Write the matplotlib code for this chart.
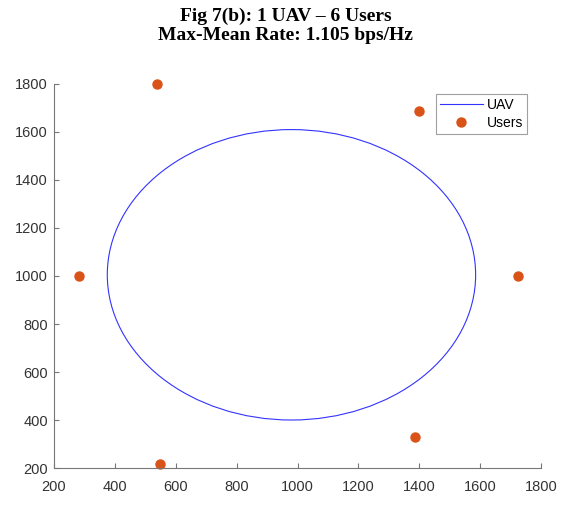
import numpy as np
import matplotlib.pyplot as plt
from matplotlib.patches import Circle
from matplotlib.lines import Line2D

# user positions (m)
user_x = [538, 1399, 282, 1724, 1386, 548]
user_y = [1800, 1688, 1000, 1000, 329, 217]

# UAV circular trajectory
uav_center = (980, 1005)
uav_radius = 605

plt.rcParams['font.family'] = ['Liberation Sans', 'DejaVu Sans']

fig = plt.figure(figsize=(5.71, 5.08), dpi=100)
ax = fig.add_axes([0.0946, 0.0787, 0.853, 0.756])

circ = Circle(uav_center, uav_radius, fill=False, edgecolor='#3333ff', linewidth=0.8)
ax.add_patch(circ)
ax.plot(user_x, user_y, 'o', color='#D95319', markersize=6.5, linestyle='none', clip_on=False)

ax.set_xlim(200, 1800)
ax.set_ylim(200, 1800)
ax.set_xticks(np.arange(200, 1801, 200))
ax.set_yticks(np.arange(200, 1801, 200))

for s in ['top', 'right']:
    ax.spines[s].set_visible(False)
for s in ['left', 'bottom']:
    ax.spines[s].set_color('#777777')
    ax.spines[s].set_linewidth(0.8)
ax.tick_params(direction='in', length=3.5, color='#777777', labelcolor='#333333', labelsize=10.5)
ax.tick_params(axis='x', pad=8.5)
ax.tick_params(axis='y', pad=4.5)

handles = [Line2D([], [], color='#3333ff', linewidth=0.8),
           Line2D([], [], marker='o', color='#D95319', markersize=6.5, linestyle='none')]
leg = ax.legend(handles, ['UAV', 'Users'], loc='upper right', bbox_to_anchor=(0.971, 0.974),
                fontsize=10, frameon=True, fancybox=False, borderpad=0.3, labelspacing=0.25,
                handlelength=3.1, handletextpad=0.25, borderaxespad=0)
leg.get_frame().set_edgecolor('#888888')
leg.get_frame().set_linewidth(0.8)

fig.text(0.5, 0.984, 'Fig 7(b): 1 UAV – 6 Users\nMax-Mean Rate: 1.105 bps/Hz',
         ha='center', va='top', fontsize=14, fontweight='bold',
         family=['Liberation Serif', 'DejaVu Serif'], linespacing=1.12)

fig.savefig('out.png', dpi=100)
